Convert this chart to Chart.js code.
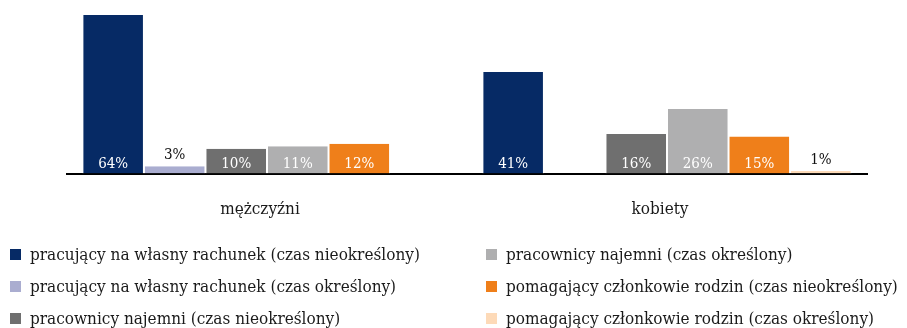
<!DOCTYPE html>
<html lang="pl">
<head>
<meta charset="utf-8">
<title>Struktura zatrudnienia</title>
<script src="https://cdn.jsdelivr.net/npm/chart.js@4.4.1/dist/chart.umd.min.js"></script>
<style>
	html, body { margin: 0; padding: 0; background: #fff; }
	#wrap { position: relative; width: 907px; height: 328px; overflow: hidden; }
	#chart { position: absolute; left: 0; top: 0; }
	#legend {
		position: absolute; left: 10px; top: 241px;
		display: grid;
		grid-template-columns: 476px auto;
		grid-template-rows: repeat(3, 32px);
		grid-auto-flow: column;
		margin: 0; padding: 0; list-style: none;
		font: 17px 'DejaVu Serif Condensed', 'DejaVu Serif', serif;
		color: #1a1a1a;
	}
	#legend li { display: flex; align-items: center; white-space: nowrap; height: 26px; }
	#legend .box { width: 11px; height: 11px; margin-right: 9px; flex: none; }
</style>
</head>
<body>
<div id="wrap">
	<canvas id="chart" width="907" height="246"></canvas>
	<ul id="legend"></ul>
</div>
<script>
const categories = ['mężczyźni', 'kobiety']

const seriesNames = [
	'pracujący na własny rachunek (czas nieokreślony)',
	'pracujący na własny rachunek (czas określony)',
	'pracownicy najemni (czas nieokreślony)',
	'pracownicy najemni (czas określony)',
	'pomagający członkowie rodzin (czas nieokreślony)',
	'pomagający członkowie rodzin (czas określony)'
]

// shares in %, [mężczyźni, kobiety]; null = no bar
const selfEmployedPermanent = [64, 41]
const selfEmployedTemporary = [3, null]
const employeesPermanent = [10, 16]
const employeesTemporary = [11, 26]
const familyPermanent = [12, 15]
const familyTemporary = [null, 1]

const seriesColors = ['#062a65', '#aaadd0', '#6f6f6f', '#afafb0', '#ef7f1a', '#fddab8']

const labelFont = "15px 'DejaVu Serif Condensed', 'DejaVu Serif', serif"

//value labels: white at the foot of the bar, dark above very short bars
const valueLabels = {
	id: 'valueLabels',
	afterDatasetsDraw(chart) {
		const ctx = chart.ctx
		const base = chart.scales.y.getPixelForValue(0)
		ctx.save()
		ctx.font = labelFont
		ctx.textAlign = 'center'
		ctx.textBaseline = 'middle'
		chart.data.datasets.forEach((ds, i) => {
			chart.getDatasetMeta(i).data.forEach((bar, j) => {
				const v = ds.data[j]
				if (v == null) return
				if (v < 5) {
					ctx.fillStyle = '#111'
					ctx.fillText(v + '%', bar.x, bar.y - 11)
				} else {
					ctx.fillStyle = '#fff'
					ctx.fillText(v + '%', bar.x, base - 9)
				}
			})
		})
		ctx.restore()
	}
}

const allSeries = [selfEmployedPermanent, selfEmployedTemporary, employeesPermanent,
	employeesTemporary, familyPermanent, familyTemporary]

const chart = new Chart(document.getElementById('chart'), {
	type: 'bar',
	data: {
		labels: categories,
		datasets: allSeries.map((values, i) => ({
			label: seriesNames[i],
			data: values,
			backgroundColor: seriesColors[i],
			borderColor: '#fff',
			borderWidth: { left: 1, right: 1, top: 0, bottom: 0 },
			categoryPercentage: 0.923,
			barPercentage: 1
		}))
	},
	options: {
		responsive: false,
		animation: false,
		layout: { padding: { left: 67, right: 40, top: 0, bottom: 0 } },
		plugins: {
			legend: { display: false },
			tooltip: { enabled: false }
		},
		scales: {
			x: {
				grid: { display: false, drawTicks: false },
				border: { display: true, color: '#000', width: 2 },
				ticks: {
					color: '#1a1a1a',
					padding: 26,
					labelOffset: -7,
					font: { family: "'DejaVu Serif Condensed', 'DejaVu Serif', serif", size: 17 }
				}
			},
			y: {
				display: false,
				min: 0,
				max: 70
			}
		}
	},
	plugins: [valueLabels]
})

//legend in two columns, built from the chart's datasets
const legend = document.getElementById('legend')
chart.data.datasets.forEach(ds => {
	let item = document.createElement('li')
	let box = document.createElement('span')
	box.classList.add('box')
	box.style.background = ds.backgroundColor
	item.appendChild(box)
	item.appendChild(document.createTextNode(ds.label))
	legend.appendChild(item)
})
</script>
</body>
</html>
